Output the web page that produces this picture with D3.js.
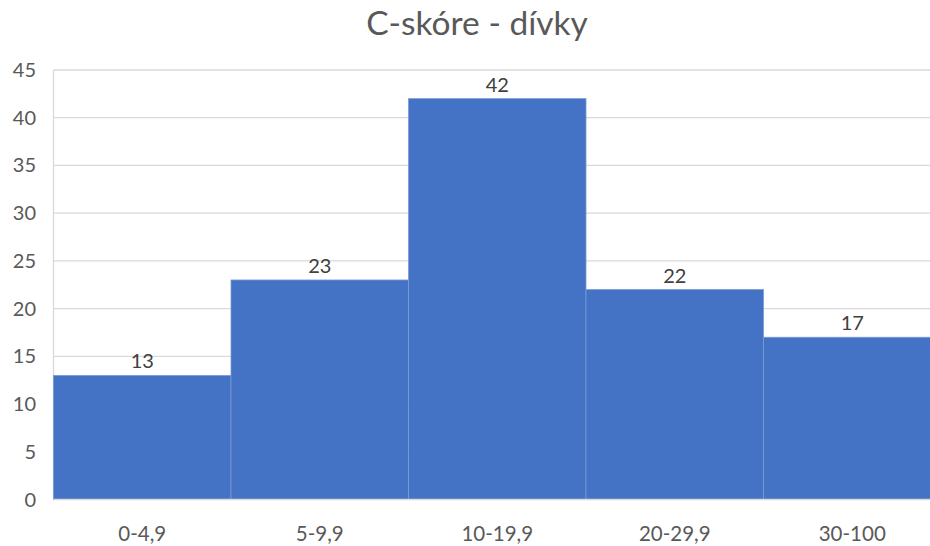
<!DOCTYPE html>
<html><head><meta charset="utf-8">
<script src="https://cdn.jsdelivr.net/npm/d3@7"></script>
<style>body{margin:0;background:#fff;}svg{display:block;}</style>
</head><body>
<script>
const categories = ["0-4,9", "5-9,9", "10-19,9", "20-29,9", "30-100"];
const values = [13, 23, 42, 22, 17];
const yTicks = [0, 5, 10, 15, 20, 25, 30, 35, 40, 45];
const title = "C-skóre - dívky";

(function () {
const W = 930, H = 546;
const font = "Lato, 'Open Sans', sans-serif";
const svg = d3.select("body").append("svg").attr("width", W).attr("height", H);
const pLeft = 53.5, pRight = 941, pTop = 70, pBottom = 499.5;

const x = d3.scaleBand().domain(categories).range([pLeft, pRight]).padding(0);
const y = d3.scaleLinear().domain([0, 45]).range([pBottom, pTop]);

svg.append("g").selectAll("line").data(yTicks.filter(d => d > 0)).join("line")
  .attr("x1", pLeft).attr("x2", pRight).attr("y1", d => y(d)).attr("y2", d => y(d))
  .attr("stroke", "#d9d9d9").attr("stroke-width", 1.3);

svg.append("line").attr("x1", pLeft).attr("x2", pLeft).attr("y1", pTop).attr("y2", pBottom)
  .attr("stroke", "#d9d9d9").attr("stroke-width", 1.3);

svg.append("g").selectAll("rect").data(values).join("rect")
  .attr("x", (d, i) => x(categories[i]))
  .attr("width", x.bandwidth())
  .attr("y", d => y(d))
  .attr("height", d => y(0) - y(d))
  .attr("fill", "#4472c4")
  .attr("stroke", "#7c9ad6").attr("stroke-width", 0.8);

svg.append("line").attr("x1", pLeft).attr("x2", pRight).attr("y1", pBottom).attr("y2", pBottom)
  .attr("stroke", "#d9d9d9").attr("stroke-width", 1.3);

svg.append("g").selectAll("text").data(yTicks).join("text")
  .attr("x", 36).attr("y", d => y(d)).attr("dy", "0.35em")
  .attr("text-anchor", "end").attr("font-family", font).attr("font-size", 20)
  .attr("fill", "#595959").text(d => d);

svg.append("g").selectAll("text").data(categories).join("text")
  .attr("x", d => x(d) + x.bandwidth() / 2).attr("y", 541)
  .attr("text-anchor", "middle").attr("font-family", font).attr("font-size", 20.5)
  .attr("fill", "#595959").text(d => d);

svg.append("g").selectAll("text").data(values).join("text")
  .attr("x", (d, i) => x(categories[i]) + x.bandwidth() / 2).attr("y", d => y(d) - 7)
  .attr("text-anchor", "middle").attr("font-family", font).attr("font-size", 20)
  .attr("fill", "#404040").text(d => d);

svg.append("text").attr("x", 477).attr("y", 35).attr("text-anchor", "middle")
  .attr("font-family", font).attr("font-size", 33.5).attr("fill", "#595959").text(title);
})();
</script>
</body></html>
